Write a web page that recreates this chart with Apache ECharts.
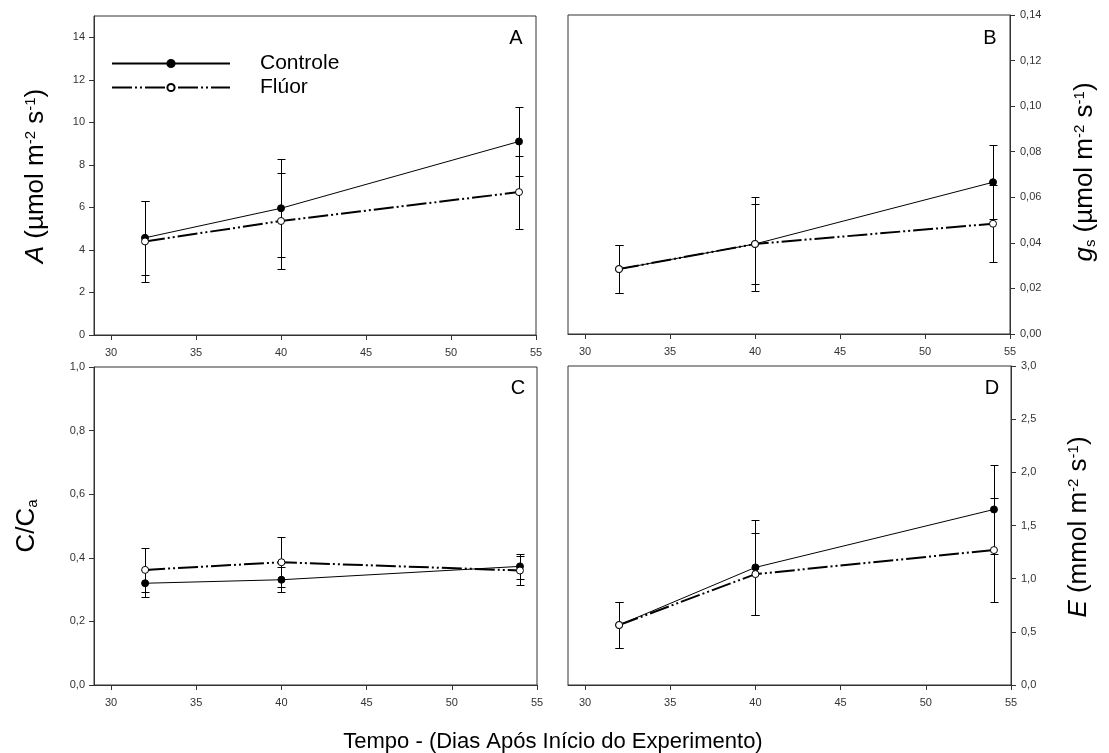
<!DOCTYPE html>
<html>
<head>
<meta charset="utf-8">
<script src="https://cdn.jsdelivr.net/npm/echarts@6/dist/echarts.min.js"></script>
<style>
html,body{margin:0;padding:0;background:#fff;}
#chart{width:1109px;height:753px;}
</style>
</head>
<body>
<div id="chart"></div>
<script>
// ---- data ----
const days = [32, 40, 54];
const xTicks = [30, 35, 40, 45, 50, 55];

const aControle = [4.57, 5.96, 9.10];
const aControleErr = [1.75, 2.30, 1.62];
const aFluor = [4.40, 5.36, 6.72];
const aFluorErr = [1.90, 2.25, 1.72];
const aTicks = [0, 2, 4, 6, 8, 10, 12, 14];

const bControle = [0.0285, 0.0395, 0.0666];
const bControleErr = [0.0105, 0.0207, 0.0162];
const bFluor = [0.0285, 0.0395, 0.0484];
const bFluorErr = [0.0105, 0.0177, 0.0170];
const bTicks = [0, 0.02, 0.04, 0.06, 0.08, 0.10, 0.12, 0.14];

const cControle = [0.320, 0.331, 0.373];
const cControleErr = [0.042, 0.040, 0.040];
const cFluor = [0.362, 0.386, 0.360];
const cFluorErr = [0.070, 0.078, 0.045];
const cTicks = [0, 0.2, 0.4, 0.6, 0.8, 1.0];

const dControle = [0.564, 1.106, 1.651];
const dControleErr = [0.22, 0.45, 0.417];
const dFluor = [0.564, 1.043, 1.269];
const dFluorErr = [0.22, 0.385, 0.486];
const dTicks = [0, 0.5, 1.0, 1.5, 2.0, 2.5, 3.0];

const seriesNames = ['Controle', 'Flúor'];
const panelLetters = ['A', 'B', 'C', 'D'];
const xTitle = 'Tempo - (Dias Após Início do Experimento)';

// ---- chart ----
const FONT = 'Liberation Sans, Arial, sans-serif';
const AX = '#333';
const chart = echarts.init(document.getElementById('chart'), null, {renderer: 'canvas'});

function fmtComma(d) { return v => v.toFixed(d).replace('.', ','); }

function xAxis(gi) {
  return {
    type: 'value', gridIndex: gi, min: 29, max: 55,
    splitLine: {show: false},
    axisLine: {show: true, onZero: false, lineStyle: {color: AX, width: 1}},
    axisTick: {show: true, length: 5, lineStyle: {color: AX}, customValues: xTicks},
    axisLabel: {customValues: xTicks, margin: 12, fontSize: 11, color: '#333', fontFamily: FONT}
  };
}
function yAxis(gi, min, max, ticks, pos, fmt) {
  return {
    type: 'value', gridIndex: gi, min: min, max: max, position: pos,
    splitLine: {show: false},
    axisLine: {show: true, onZero: false, lineStyle: {color: AX, width: 1}},
    axisTick: {show: true, length: 5, lineStyle: {color: AX}, customValues: ticks},
    axisLabel: {customValues: ticks, margin: pos === 'left' ? 9 : 10, fontSize: 11, color: '#333', fontFamily: FONT, formatter: fmt}
  };
}

function lineSeries(gi, name, vals, open) {
  return {
    type: 'line', name: name, xAxisIndex: gi, yAxisIndex: gi,
    data: days.map((d, i) => [d, vals[i]]),
    symbol: 'circle', symbolSize: 7, z: 4,
    itemStyle: open ? {color: '#fff', borderColor: '#000', borderWidth: 1} : {color: '#000', borderColor: '#000', borderWidth: 1},
    lineStyle: open ? {color: '#000', width: 2, type: [20, 3, 2, 3, 2, 3]} : {color: '#000', width: 1},
    emphasis: {disabled: true}, animation: false
  };
}
function errSeries(gi, vals, errs) {
  return {
    type: 'custom', xAxisIndex: gi, yAxisIndex: gi, z: 3, silent: true, animation: false,
    data: days.map((d, i) => [d, vals[i] - errs[i], vals[i] + errs[i]]),
    encode: {x: 0, y: [1, 2]},
    renderItem: function (params, api) {
      const x = api.value(0);
      const lo = api.coord([x, api.value(1)]);
      const hi = api.coord([x, api.value(2)]);
      const w = 4;
      const st = {stroke: '#000', lineWidth: 1};
      const cx = Math.round(lo[0]) + 0.5;
      const yl = Math.round(lo[1]) + 0.5, yh = Math.round(hi[1]) + 0.5;
      return {type: 'group', children: [
        {type: 'line', shape: {x1: cx, y1: yl, x2: cx, y2: yh}, style: st},
        {type: 'line', shape: {x1: cx - w, y1: yl, x2: cx + w, y2: yl}, style: st},
        {type: 'line', shape: {x1: cx - w, y1: yh, x2: cx + w, y2: yh}, style: st}
      ]};
    }
  };
}

const grids = [
  {left: 94, top: 16, width: 442, height: 319},
  {left: 568, top: 15, width: 442, height: 319},
  {left: 94, top: 367, width: 443, height: 318},
  {left: 568, top: 366, width: 443, height: 319}
].map(g => Object.assign(g, {show: true, borderColor: AX, borderWidth: 1, backgroundColor: 'transparent', containLabel: false}));

const titleRich = {
  n: {fontSize: 26, fontFamily: FONT, color: '#000'},
  i: {fontSize: 26, fontFamily: FONT, fontStyle: 'italic', color: '#000'},
  sup: {fontSize: 15, fontFamily: FONT, verticalAlign: 'top', lineHeight: 15, color: '#000'},
  sub: {fontSize: 15, fontFamily: FONT, verticalAlign: 'bottom', lineHeight: 15, color: '#000'}
};
function vText(x, y, text) {
  return {
    type: 'text', x: x, y: y, rotation: Math.PI / 2, silent: true,
    style: {text: text, fontSize: 26, fontFamily: FONT, fill: '#000', align: 'center', verticalAlign: 'middle', rich: titleRich}
  };
}
function letter(x, y, t) {
  return {type: 'text', x: x, y: y, silent: true,
    style: {text: t, fontSize: 20, fontFamily: FONT, fill: '#000', align: 'center', verticalAlign: 'middle'}};
}

const option = {
  backgroundColor: '#fff',
  animation: false,
  grid: grids,
  xAxis: [xAxis(0), xAxis(1), xAxis(2), xAxis(3)],
  yAxis: [
    yAxis(0, 0, 15, aTicks, 'left', v => String(v)),
    yAxis(1, 0, 0.14, bTicks, 'right', fmtComma(2)),
    yAxis(2, 0, 1, cTicks, 'left', fmtComma(1)),
    yAxis(3, 0, 3, dTicks, 'right', fmtComma(1))
  ],
  legend: {
    data: seriesNames, orient: 'vertical', left: 111, top: 53, padding: 0,
    itemWidth: 118, itemHeight: 9, itemGap: 3,
    selectedMode: false,
    textStyle: {fontSize: 21, fontFamily: FONT, color: '#000', lineHeight: 21, padding: [0, 0, 0, 25]}
  },
  series: [
    lineSeries(0, seriesNames[0], aControle, false),
    lineSeries(0, seriesNames[1], aFluor, true),
    errSeries(0, aControle, aControleErr),
    errSeries(0, aFluor, aFluorErr),
    lineSeries(1, seriesNames[0], bControle, false),
    lineSeries(1, seriesNames[1], bFluor, true),
    errSeries(1, bControle, bControleErr),
    errSeries(1, bFluor, bFluorErr),
    lineSeries(2, seriesNames[0], cControle, false),
    lineSeries(2, seriesNames[1], cFluor, true),
    errSeries(2, cControle, cControleErr),
    errSeries(2, cFluor, cFluorErr),
    lineSeries(3, seriesNames[0], dControle, false),
    lineSeries(3, seriesNames[1], dFluor, true),
    errSeries(3, dControle, dControleErr),
    errSeries(3, dFluor, dFluorErr)
  ],
  graphic: [
    vText(36, 176, '{i|A} (µmol m{sup|-2} s{sup|-1})'),
    vText(1085, 172, '{i|g}{sub|s} (µmol m{sup|-2} s{sup|-1})'),
    vText(27, 526, 'C/C{sub|a}'),
    vText(1079, 527, '{i|E} (mmol m{sup|-2} s{sup|-1})'),
    letter(516, 38, panelLetters[0]),
    letter(990, 38, panelLetters[1]),
    letter(518, 388, panelLetters[2]),
    letter(992, 388, panelLetters[3]),
    {type: 'text', x: 553, y: 742, silent: true,
     style: {text: xTitle, fontSize: 22, fontFamily: FONT, fill: '#000', align: 'center', verticalAlign: 'middle'}}
  ]
};
chart.setOption(option);
</script>
</body>
</html>
